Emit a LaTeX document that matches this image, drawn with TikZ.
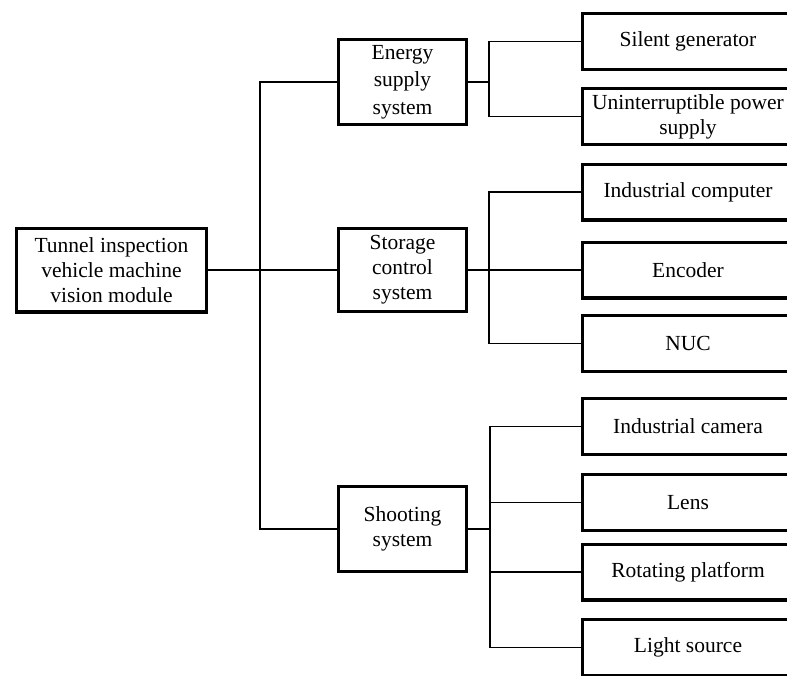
\documentclass[tikz,border=0pt]{standalone}
\usepackage{fontspec}
\setmainfont{Liberation Serif}
\begin{document}
\begin{tikzpicture}[x=1pt,y=-1pt,
  box/.style={draw,line width=3.3pt,rectangle,align=center,inner sep=0pt,
    font=\fontsize{21.5}{25}\selectfont},
  midbox/.style={box,minimum width=127.7pt,minimum height=84.7pt},
  leaf/.style={box,minimum width=210.7pt,minimum height=55.7pt},
  conn/.style={line width=1.4pt}]
\useasboundingbox (0,0) rectangle (787,675);
\clip (0,0) rectangle (787,675);
% root
\node[box,minimum width=189.7pt,minimum height=83.7pt] (root) at (111.5,270)
  {Tunnel inspection\\vehicle machine\\vision module};
% middle level
\node[midbox,font=\fontsize{21.5}{27.5}\selectfont] (energy) at (402.5,82) {Energy\\supply\\system};
\node[midbox,minimum height=82.7pt] (stor) at (402.5,270) {Storage\\control\\system};
\node[midbox] (shoot) at (402.5,529) {Shooting\\system};
% leaves
\node[leaf] (sg) at (688,41.5) {Silent generator};
\node[leaf] (ups) at (688,116.5) {Uninterruptible power\\supply};
\node[leaf] (ic) at (688,192) {Industrial computer};
\node[leaf] (enc) at (688,270) {Encoder};
\node[leaf] (nuc) at (688,343.5) {NUC};
\node[leaf] (cam) at (688,426.5) {Industrial camera};
\node[leaf] (lens) at (688,502.5) {Lens};
\node[leaf] (rot) at (688,572) {Rotating platform};
\node[leaf] (light) at (688,647.5) {Light source};
% bus coordinates
\coordinate (t) at (260,270);
\coordinate (eb) at (489,82);
\coordinate (sb) at (489,270);
\coordinate (hb) at (490,529);
% trunk
\draw[conn] (root.east) -- (stor.west);
\draw[conn] (energy.west) -| (t) |- (shoot.west);
% energy
\draw[conn] (energy.east) -- (eb);
\draw[conn] (sg.west) -| (eb) |- (ups.west);
% storage
\draw[conn] (stor.east) -- (enc.west);
\draw[conn] (ic.west) -| (sb) |- (nuc.west);
% shooting
\draw[conn] (shoot.east) -- (hb);
\draw[conn] (cam.west) -| (hb) |- (light.west);
\draw[conn] (hb |- lens.west) -- (lens.west);
\draw[conn] (hb |- rot.west) -- (rot.west);
\end{tikzpicture}
\end{document}
